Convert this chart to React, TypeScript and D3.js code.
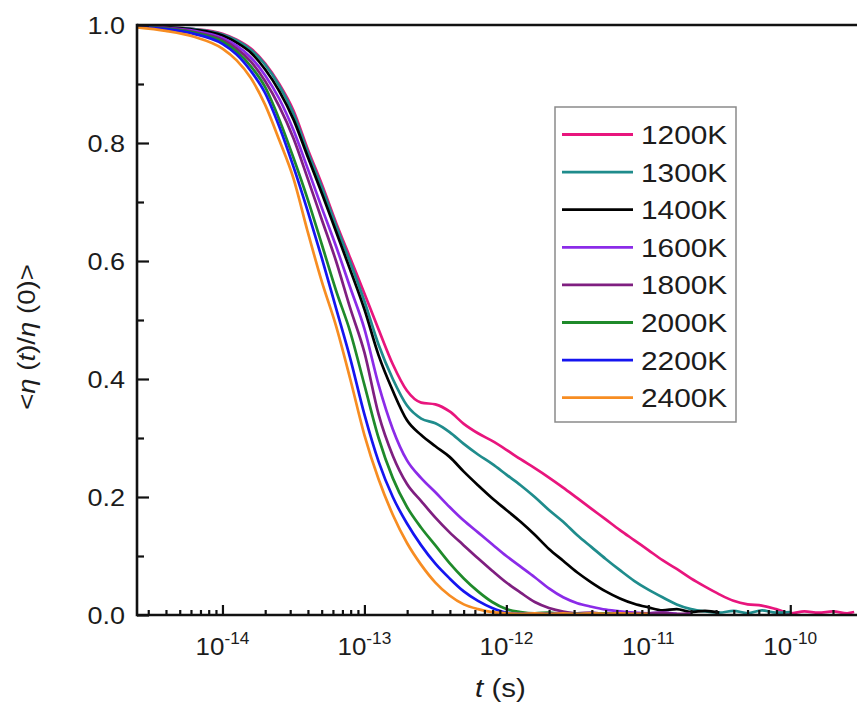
import React, { useEffect, useRef } from 'react';
import * as d3 from 'd3';

// log10(t) sample grid shared by all series
const logT = [-14.6, -14.4, -14.2, -14.0, -13.9, -13.8, -13.7, -13.6, -13.5, -13.4, -13.3, -13.2,
  -13.1, -13.0, -12.9, -12.8, -12.7, -12.6, -12.5, -12.4, -12.3, -12.2, -12.1, -12.0, -11.9,
  -11.8, -11.7, -11.6, -11.5, -11.4, -11.3, -11.2, -11.1, -11.0, -10.9, -10.8, -10.7, -10.6,
  -10.5, -10.4, -10.3, -10.2, -10.1, -10.0, -9.9, -9.8, -9.7, -9.6, -9.55];

const labels = ['1200K', '1300K', '1400K', '1600K', '1800K', '2000K', '2200K', '2400K'];
const colors = ['#e8157d', '#1f8c8c', '#000000', '#8b2be8', '#7f1f80', '#1f8a2a', '#1515f0', '#f78d22'];

const v1200 = [0.998, 0.996, 0.993, 0.985, 0.975, 0.96, 0.935, 0.9, 0.855, 0.79, 0.73, 0.665, 0.605,
  0.545, 0.484, 0.425, 0.38, 0.36, 0.357, 0.345, 0.324, 0.308, 0.295, 0.28, 0.264, 0.249, 0.233,
  0.216, 0.198, 0.18, 0.162, 0.144, 0.127, 0.11, 0.093, 0.078, 0.062, 0.048, 0.035, 0.024, 0.018,
  0.016, 0.01, 0.003, 0.006, 0.004, 0.006, 0.003, 0.005];
const v1300 = [0.998, 0.996, 0.993, 0.984, 0.974, 0.958, 0.933, 0.897, 0.85, 0.785, 0.725, 0.66, 0.598,
  0.532, 0.458, 0.4, 0.355, 0.333, 0.325, 0.31, 0.29, 0.272, 0.256, 0.238, 0.22, 0.2, 0.178, 0.158,
  0.135, 0.115, 0.095, 0.076, 0.058, 0.043, 0.03, 0.018, 0.01, 0.006, 0.004, 0.007, 0.003, 0.008,
  0.004, 0.005];
const v1400 = [0.998, 0.996, 0.992, 0.982, 0.97, 0.953, 0.925, 0.888, 0.84, 0.777, 0.715, 0.65, 0.585,
  0.518, 0.44, 0.38, 0.33, 0.305, 0.286, 0.268, 0.243, 0.22, 0.198, 0.178, 0.158, 0.136, 0.112,
  0.092, 0.072, 0.055, 0.04, 0.028, 0.019, 0.013, 0.008, 0.01, 0.005, 0.007, 0.004];
const v1600 = [0.998, 0.995, 0.99, 0.978, 0.965, 0.945, 0.915, 0.875, 0.822, 0.757, 0.69, 0.625, 0.555,
  0.485, 0.39, 0.315, 0.262, 0.232, 0.208, 0.183, 0.16, 0.14, 0.12, 0.1, 0.082, 0.064, 0.045, 0.03,
  0.02, 0.014, 0.009, 0.006, 0.004, 0.003, 0.004, 0.002];
const v1800 = [0.998, 0.995, 0.988, 0.975, 0.96, 0.938, 0.905, 0.862, 0.808, 0.74, 0.67, 0.6, 0.52,
  0.445, 0.34, 0.27, 0.222, 0.193, 0.165, 0.14, 0.118, 0.096, 0.075, 0.055, 0.038, 0.022, 0.012,
  0.006, 0.003, 0.004, 0.002, 0.003, 0.002, 0.003, 0.004, 0.002, 0.003];
const v2000 = [0.997, 0.994, 0.987, 0.972, 0.955, 0.93, 0.895, 0.84, 0.775, 0.705, 0.628, 0.55, 0.48,
  0.39, 0.3, 0.232, 0.183, 0.148, 0.118, 0.088, 0.062, 0.04, 0.022, 0.01, 0.005, 0.003, 0.004,
  0.002, 0.003, 0.002, 0.003, 0.002];
const v2200 = [0.997, 0.993, 0.985, 0.968, 0.95, 0.922, 0.885, 0.828, 0.76, 0.685, 0.605, 0.52, 0.435,
  0.34, 0.26, 0.2, 0.155, 0.118, 0.087, 0.062, 0.04, 0.024, 0.012, 0.004, 0.002, 0.003, 0.002,
  0.003, 0.002, 0.002];
const v2400 = [0.996, 0.99, 0.98, 0.96, 0.94, 0.91, 0.865, 0.805, 0.74, 0.65, 0.565, 0.49, 0.4, 0.305,
  0.23, 0.17, 0.122, 0.085, 0.055, 0.033, 0.018, 0.01, 0.005, 0.003, 0.002, 0.003, 0.002, 0.003,
  0.002, 0.003, 0.002, 0.003, 0.002, 0.002];

const seriesValues = [v1200, v1300, v1400, v1600, v1800, v2000, v2200, v2400];

const xDecades = [1e-14, 1e-13, 1e-12, 1e-11, 1e-10];
const xDecadeExp = ['-14', '-13', '-12', '-11', '-10'];
const yMajor = [0, 0.2, 0.4, 0.6, 0.8, 1.0];
const yMinor = [0.1, 0.3, 0.5, 0.7, 0.9];

const FONT = '"Liberation Sans", Arial, Helvetica, sans-serif';

export default function App() {
  const ref = useRef<SVGSVGElement>(null);

  useEffect(() => {
    const width = 857;
    const height = 719;
    const left = 137, right = 858, top = 25, bottom = 615;

    const svg = d3.select(ref.current);
    svg.selectAll('*').remove();
    svg.attr('width', width).attr('height', height);

    const x = d3.scaleLog().domain([2.5e-15, 3e-10]).range([left, right]);
    const y = d3.scaleLinear().domain([0, 1]).range([bottom, top]);

    // curves
    const line = d3.line<[number, number]>()
      .x(d => x(Math.pow(10, d[0])))
      .y(d => y(d[1]))
      .curve(d3.curveMonotoneX);

    const curves = svg.append('g');
    seriesValues.forEach((vals, i) => {
      const pts: [number, number][] = vals.map((v, j) => [logT[j], v]);
      curves.append('path')
        .attr('d', line(pts))
        .attr('fill', 'none')
        .attr('stroke', colors[i])
        .attr('stroke-width', 2.7)
        .attr('stroke-linejoin', 'round');
    });

    // minor x ticks (2..9 per decade)
    const minorX: number[] = [];
    for (let e = -15; e <= -10; e++) {
      for (let m = 2; m <= 9; m++) {
        const v = m * Math.pow(10, e);
        if (v > 2.5e-15 && v < 3e-10) minorX.push(v);
      }
    }

    const xMinorAxis = d3.axisBottom(x).tickValues(minorX).tickSize(-5).tickFormat(() => '');
    const xMajorAxis = d3.axisBottom(x).tickValues(xDecades).tickSize(-10).tickFormat(() => '');
    const yMinorAxis = d3.axisLeft(y).tickValues(yMinor).tickSize(-7).tickFormat(() => '');
    const yMajorAxis = d3.axisLeft(y).tickValues(yMajor).tickSize(-12).tickFormat(() => '');

    const axes = [
      svg.append('g').attr('transform', `translate(0, ${bottom})`).call(xMinorAxis),
      svg.append('g').attr('transform', `translate(0, ${bottom})`).call(xMajorAxis),
      svg.append('g').attr('transform', `translate(${left}, 0)`).call(yMinorAxis),
      svg.append('g').attr('transform', `translate(${left}, 0)`).call(yMajorAxis),
    ];
    axes.forEach(g => {
      g.select('.domain').remove();
      g.selectAll('line').attr('stroke', '#111').attr('stroke-width', 2.2);
    });

    // frame
    const frame = svg.append('g').attr('stroke', '#111').attr('stroke-width', 2.6).attr('fill', 'none');
    frame.append('line').attr('x1', left).attr('x2', left).attr('y1', top - 1.3).attr('y2', bottom + 1.3);
    frame.append('line').attr('x1', left).attr('x2', width).attr('y1', bottom).attr('y2', bottom);
    frame.append('line').attr('x1', left).attr('x2', width).attr('y1', top).attr('y2', top);

    // y tick labels
    yMajor.forEach(v => {
      svg.append('text')
        .attr('transform', `translate(125, ${y(v) + 8.5}) scale(1.15, 1)`)
        .attr('text-anchor', 'end')
        .attr('font-family', FONT)
        .attr('font-size', 23.5)
        .attr('fill', '#1c1c1c')
        .text(v.toFixed(1));
    });

    // x tick labels
    xDecades.forEach((v, i) => {
      const t = svg.append('text')
        .attr('transform', `translate(${x(v)}, 655) scale(1.08, 1)`)
        .attr('text-anchor', 'middle')
        .attr('font-family', FONT)
        .attr('font-size', 24)
        .attr('fill', '#1c1c1c');
      t.append('tspan').text('10');
      t.append('tspan').attr('font-size', 16).attr('dy', -11).text(xDecadeExp[i]);
    });

    // x title
    const xt = svg.append('text')
      .attr('transform', 'translate(475, 697) scale(1.18, 1)')
      .attr('font-family', FONT)
      .attr('font-size', 25)
      .attr('fill', '#1c1c1c');
    xt.append('tspan').attr('font-style', 'italic').text('t');
    xt.append('tspan').text(' (s)');

    // y title
    const yt = svg.append('text')
      .attr('transform', 'translate(35, 337) rotate(-90) scale(1.15, 1)')
      .attr('text-anchor', 'middle')
      .attr('font-family', FONT)
      .attr('font-size', 24)
      .attr('fill', '#1c1c1c');
    yt.append('tspan').text('<');
    yt.append('tspan').attr('font-style', 'italic').text('η');
    yt.append('tspan').text(' (');
    yt.append('tspan').attr('font-style', 'italic').text('t');
    yt.append('tspan').text(')/');
    yt.append('tspan').attr('font-style', 'italic').text('η');
    yt.append('tspan').text(' (0)>');

    // legend
    const legend = svg.append('g');
    legend.append('rect')
      .attr('x', 555).attr('y', 107).attr('width', 181).attr('height', 315)
      .attr('fill', '#fff').attr('stroke', '#8a8a8a').attr('stroke-width', 1.5);
    labels.forEach((lab, i) => {
      const ly = 134.5 + i * 37.6;
      legend.append('line')
        .attr('x1', 562).attr('x2', 633).attr('y1', ly).attr('y2', ly)
        .attr('stroke', colors[i]).attr('stroke-width', 2.8);
      legend.append('text')
        .attr('transform', `translate(641, ${ly + 9.5}) scale(1.17, 1)`)
        .attr('font-family', FONT)
        .attr('font-size', 25.5)
        .attr('fill', '#1c1c1c')
        .text(lab);
    });
  }, []);

  return (
    <svg ref={ref} style={{ position: 'absolute', left: 0, top: 0, display: 'block', background: '#fff' }} />
  );
}
